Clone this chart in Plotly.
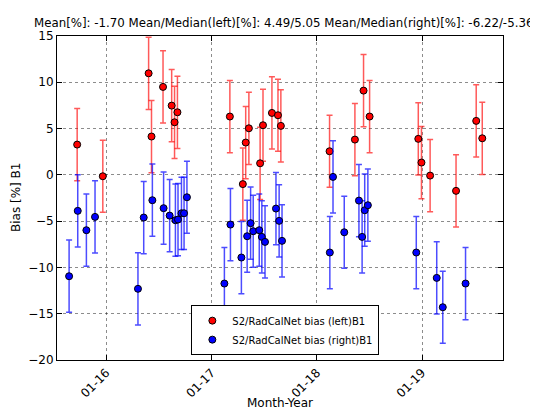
import plotly.graph_objects as go

left_dates = ["2015-09-22", "2015-12-20", "2016-05-27", "2016-06-06", "2016-07-16", "2016-08-15",
              "2016-08-25", "2016-09-04", "2017-03-05", "2017-04-19", "2017-04-29", "2017-05-10",
              "2017-06-18", "2017-06-28", "2017-07-29", "2017-08-19", "2017-08-29", "2018-02-14",
              "2018-05-13", "2018-06-12", "2018-07-03", "2018-12-19", "2018-12-30", "2019-01-29",
              "2019-04-29", "2019-07-08", "2019-07-29"]
left_bias = [3.27, -0.15, 10.97, 4.14, 9.5, 7.48, 5.68, 6.76, 6.3, -1.0, 3.49, 5.03, 1.25, 5.36,
             6.69, 6.44, 5.29, 2.55, 3.81, 9.1, 6.3, 3.89, 1.33, -0.08, -1.73, 5.83, 3.95]
left_err = [3.9, 3.9, 3.9, 3.9, 3.9, 3.9, 3.9, 3.9, 3.9, 3.9, 3.9, 3.9, 3.9, 3.9,
            3.9, 3.9, 3.9, 3.9, 3.9, 3.9, 3.9, 3.9, 3.9, 3.9, 3.9, 3.9, 3.9]

right_dates = ["2015-08-25", "2015-09-24", "2015-10-24", "2015-11-23", "2016-04-20", "2016-05-10",
               "2016-06-09", "2016-07-18", "2016-08-08", "2016-08-28", "2016-09-06", "2016-09-18",
               "2016-09-27", "2016-10-07", "2017-02-14", "2017-03-07", "2017-04-14", "2017-05-04",
               "2017-05-16", "2017-05-25", "2017-06-15", "2017-06-24", "2017-07-05", "2017-08-12",
               "2017-08-23", "2017-09-02", "2018-02-15", "2018-02-26", "2018-04-06", "2018-05-27",
               "2018-06-07", "2018-06-16", "2018-06-27", "2018-12-12", "2019-02-21", "2019-03-14",
               "2019-06-01"]
right_bias = [-10.95, -3.89, -5.98, -4.54, -12.31, -4.61, -2.74, -3.6, -4.4, -4.9, -4.83, -4.15,
              -4.15, -2.42, -11.74, -5.37, -8.93, -6.63, -5.22, -6.09, -5.98, -6.7, -7.24, -3.64,
              -4.97, -7.13, -8.39, -0.22, -6.2, -2.78, -6.7, -3.82, -3.28, -8.39, -11.13, -14.3,
              -11.74]
right_err = [3.9, 3.9, 3.9, 3.9, 3.9, 3.9, 3.9, 3.9, 3.9, 3.9, 3.9, 3.9, 3.9, 3.9, 3.9, 3.9,
             3.9, 3.9, 3.9, 3.9, 3.9, 3.9, 3.9, 3.9, 3.9, 3.9, 3.9, 3.9, 3.9, 3.9, 3.9, 3.9,
             3.9, 3.9, 3.9, 3.9, 3.9]

x_ticks = ["2016-01-01", "2017-01-01", "2018-01-01", "2019-01-01"]
x_ticklabels = ["01-16", "01-17", "01-18", "01-19"]
y_ticks = [15, 10, 5, 0, -5, -10, -15, -20]

title_text = "Mean[%]: -1.70 Mean/Median(left)[%]: 4.49/5.05 Mean/Median(right)[%]: -6.22/-5.36"

FONT = "DejaVu Sans"

fig = go.Figure()
fig.add_trace(go.Scatter(
    x=left_dates, y=left_bias, mode="markers",
    name="S2/RadCalNet bias (left)B1",
    marker=dict(color="#ff0000", size=7, line=dict(color="black", width=1)),
    error_y=dict(type="data", array=left_err, visible=True,
                 color="rgba(255,0,0,0.65)", thickness=1.5, width=3),
))
fig.add_trace(go.Scatter(
    x=right_dates, y=right_bias, mode="markers",
    name="S2/RadCalNet bias (right)B1",
    marker=dict(color="#0000ff", size=7, line=dict(color="black", width=1)),
    error_y=dict(type="data", array=right_err, visible=True,
                 color="rgba(0,0,255,0.7)", thickness=1.5, width=3),
))

axis_common = dict(
    showline=True, linecolor="black", linewidth=1, mirror="allticks",
    ticks="inside", ticklen=5, tickcolor="black",
    showgrid=True, gridcolor="rgba(0,0,0,0.45)", griddash="dot", gridwidth=1,
    zeroline=False, tickfont=dict(family=FONT, size=12, color="black"),
)

fig.update_xaxes(
    type="date", range=["2015-07-14", "2019-10-09"],
    tickvals=x_ticks, ticktext=x_ticklabels, tickangle=-45,
    **axis_common,
)
fig.update_yaxes(
    range=[-20.0001, 15.0001], tickvals=y_ticks,
    **axis_common,
)

# The page body adds an 8px offset; the figure is sized so the plot lands where the reference has it.
fig.update_layout(
    width=530, height=404,
    margin=dict(l=49, r=35, t=28, b=44),
    paper_bgcolor="white", plot_bgcolor="white",
    font=dict(family=FONT, size=12, color="black"),
    showlegend=True,
    legend=dict(
        x=0.512, y=0.015, xanchor="center", yanchor="bottom",
        bgcolor="white", bordercolor="black", borderwidth=1,
        font=dict(family=FONT, size=10, color="black"),
        tracegroupgap=0, itemwidth=30,
    ),
    annotations=[
        dict(text=title_text, xref="paper", yref="paper", x=0.507, y=1.0,
             xanchor="center", yanchor="bottom", yshift=4, showarrow=False,
             font=dict(family=FONT, size=11.8, color="black")),
        dict(text="Month-Year", xref="paper", yref="paper", x=0.5, y=0,
             xanchor="center", yanchor="top", yshift=-34, showarrow=False,
             font=dict(family=FONT, size=12, color="black")),
        dict(text="Bias [%] B1", xref="paper", yref="paper", x=0, y=0.5,
             xanchor="right", yanchor="middle", xshift=-32, textangle=-90,
             showarrow=False, font=dict(family=FONT, size=12, color="black")),
    ],
)

fig.write_html("out.html")
